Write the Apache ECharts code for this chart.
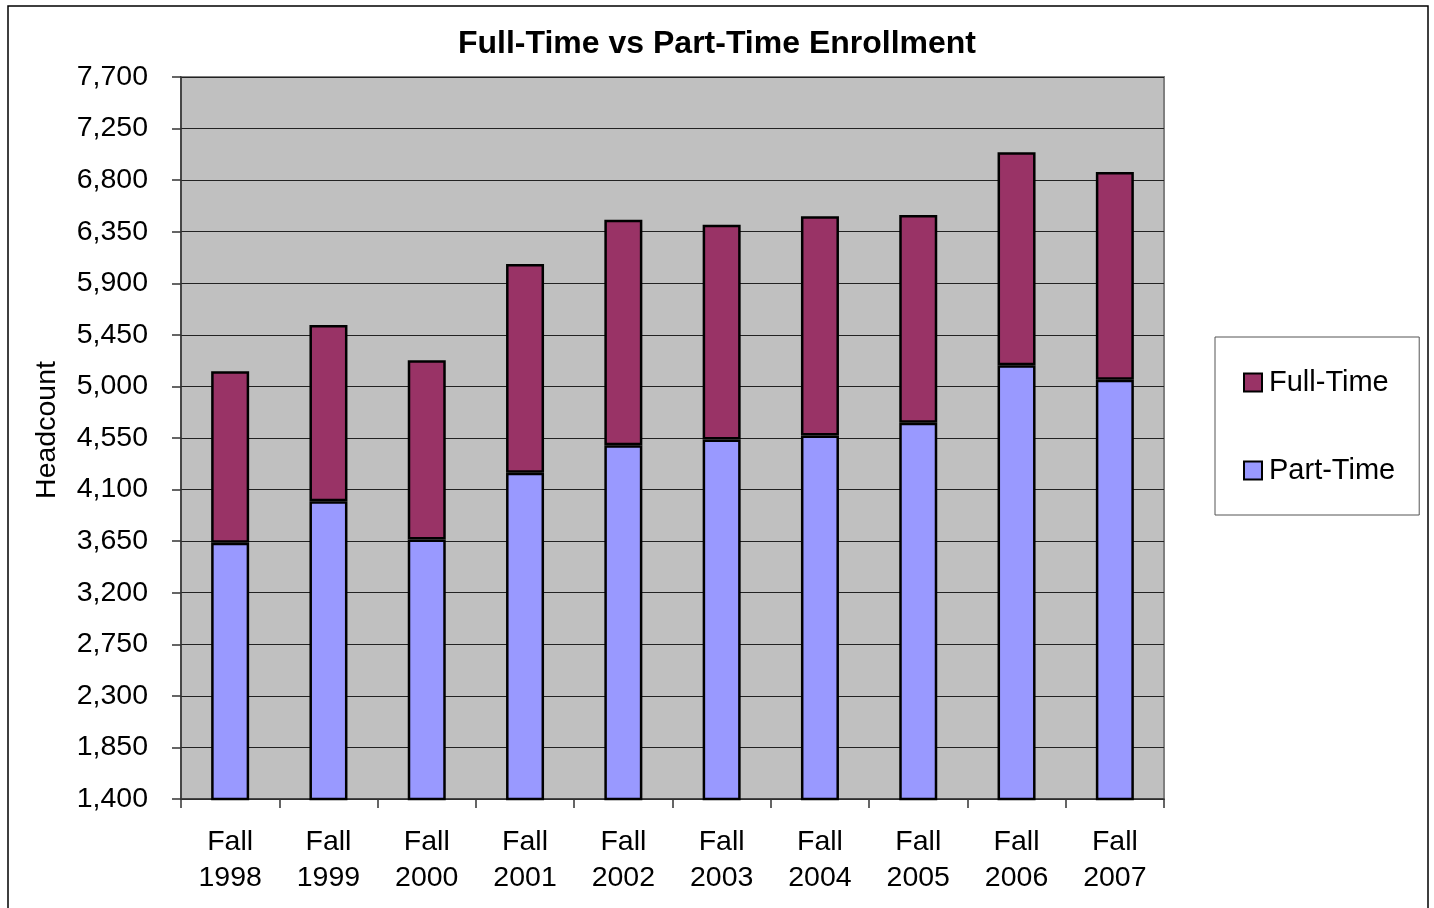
<!DOCTYPE html>
<html>
<head>
<meta charset="utf-8">
<script src="https://cdn.jsdelivr.net/npm/echarts@6/dist/echarts.min.js"></script>
<style>
  html, body { margin: 0; padding: 0; background: #ffffff; }
  #chart { width: 1434px; height: 908px; }
</style>
</head>
<body>
<div id="chart"></div>
<script>
const categories = ['Fall\n1998', 'Fall\n1999', 'Fall\n2000', 'Fall\n2001', 'Fall\n2002',
                    'Fall\n2003', 'Fall\n2004', 'Fall\n2005', 'Fall\n2006', 'Fall\n2007'];
const partTime = [3636, 3999, 3665, 4246, 4487, 4536, 4571, 4682, 5184, 5059];
const fullTime = [1496, 1537, 1563, 1822, 1967, 1874, 1915, 1813, 1860, 1813];
const yMin = 1400;
const yMax = 7700;
const yInterval = 450;
const yAxisTitle = 'Headcount';

const FONT = "'Liberation Sans', Arial, sans-serif";
const chart = echarts.init(document.getElementById('chart'), null, { renderer: 'canvas' });

chart.setOption({
  backgroundColor: '#ffffff',
  animation: false,
  graphic: [{
    type: 'rect',
    shape: { x: 8, y: 6, width: 1420, height: 920 },
    style: { fill: 'none', stroke: '#000000', lineWidth: 1.5 },
    z: -10
  }, {
    type: 'text',
    x: 47,
    y: 430,
    rotation: Math.PI / 2,
    style: {
      text: yAxisTitle,
      fontFamily: FONT,
      fontSize: 28.5,
      fill: '#000',
      textAlign: 'center',
      textVerticalAlign: 'middle'
    }
  }],
  title: {
    text: 'Full-Time vs Part-Time Enrollment',
    left: 'center',
    top: 28,
    padding: 0,
    textStyle: { fontFamily: FONT, fontSize: 32, fontWeight: 'bold', color: '#000', lineHeight: 32 }
  },
  legend: {
    orient: 'vertical',
    left: 1215,
    top: 337,
    padding: [31, 24, 30, 28],
    itemGap: 59,
    itemWidth: 18,
    itemHeight: 18,
    icon: 'rect',
    backgroundColor: '#ffffff',
    borderColor: '#555555',
    borderWidth: 1,
    borderRadius: 0,
    data: ['Full-Time', 'Part-Time'],
    itemStyle: { borderColor: '#000', borderWidth: 2 },
    textStyle: { fontFamily: FONT, fontSize: 29, color: '#000', lineHeight: 28, padding: [0, 0, 0, 2] }
  },
  grid: {
    left: 181,
    right: 270,
    top: 77,
    bottom: 109,
    show: true,
    backgroundColor: '#C0C0C0',
    borderColor: '#808080',
    borderWidth: 2
  },
  xAxis: {
    type: 'category',
    data: categories,
    axisLine: { show: true, lineStyle: { color: '#333', width: 1.5 } },
    axisTick: { show: true, alignWithLabel: false, length: 9, lineStyle: { color: '#333', width: 1.5 } },
    axisLabel: { fontFamily: FONT, fontSize: 28.5, color: '#000', lineHeight: 36, margin: 25, interval: 0 }
  },
  yAxis: {
    type: 'value',
    min: yMin,
    max: yMax,
    interval: yInterval,
    axisLine: { show: true, lineStyle: { color: '#333', width: 1.5 } },
    axisTick: { show: true, length: 9, lineStyle: { color: '#333', width: 1.5 } },
    axisLabel: {
      fontFamily: FONT, fontSize: 28.5, color: '#000', margin: 33,
      formatter: v => v.toLocaleString('en-US')
    },
    splitLine: { show: true, lineStyle: { color: '#222', width: 1.2 } }
  },
  series: [
    {
      name: 'Part-Time',
      type: 'bar',
      stack: 'total',
      barWidth: 38,
      data: partTime,
      itemStyle: { color: '#9999FF', borderColor: '#000', borderWidth: 2.5 }
    },
    {
      name: 'Full-Time',
      type: 'bar',
      stack: 'total',
      barWidth: 38,
      data: fullTime,
      itemStyle: { color: '#993366', borderColor: '#000', borderWidth: 2.5 }
    }
  ]
});
</script>
</body>
</html>
